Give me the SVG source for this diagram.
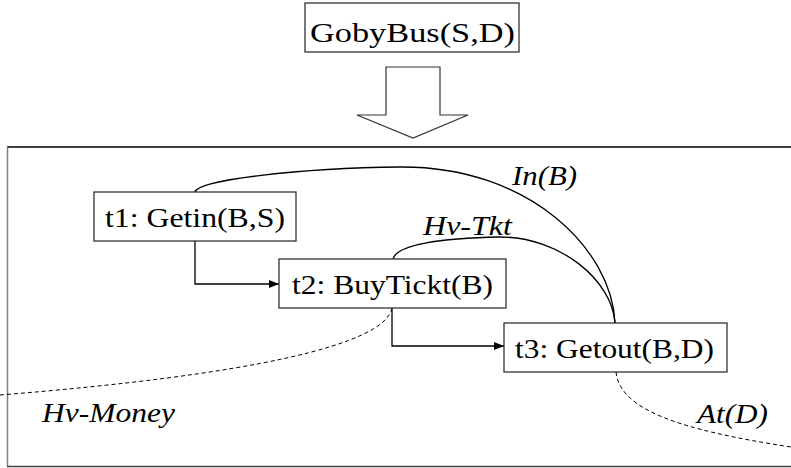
<svg xmlns="http://www.w3.org/2000/svg" width="791" height="468" viewBox="0 0 791 468">
<style>
.box{fill:#fff;stroke:#333;stroke-width:1.3}
.solid{fill:none;stroke:#000;stroke-width:1.3}
.dash{fill:none;stroke:#000;stroke-width:1;stroke-dasharray:4 3}
</style>
<defs>
<marker id="ah" viewBox="0 0 10 10" refX="10" refY="5" markerWidth="10" markerHeight="10" markerUnits="userSpaceOnUse" orient="auto">
<path d="M0,1 L10,5 L0,9 Z" fill="#000"/>
</marker>
</defs>
<rect width="791" height="468" fill="#fff"/>
<g id="frame">
<line x1="7" y1="147" x2="791" y2="147" stroke="#000" stroke-width="1.3"/>
<line x1="7.5" y1="147" x2="7.5" y2="467" stroke="#808080" stroke-width="1.5"/>
<line x1="7" y1="466.5" x2="791" y2="466.5" stroke="#444" stroke-width="1.3"/>
</g>
<g id="bigarrow">
<polygon points="386,67 440,67 440,115 468,115 413,138 357,115 386,115" fill="#fff" stroke="#333" stroke-width="1.2"/>
</g>
<g id="connectors">
<path class="solid" d="M195,192 C198,180 300,168 400,167 C530,166 612,250 615,323"/>
<path class="solid" d="M393,259 C396,245 440,238 500,237 C560,237 612,280 615,323"/>
<path class="dash" d="M392,308 C385,345 250,375 0,395"/>
<path class="dash" d="M616,372 C620,410 680,430 791,447"/>
<polyline class="solid" points="195,241 195,284 279,284" marker-end="url(#ah)"/>
<polyline class="solid" points="392,308 392,346 504,346" marker-end="url(#ah)"/>
</g>
<g font-family="Liberation Serif, Tinos, Times New Roman, DejaVu Serif, serif" font-size="28" fill="#000">
<g id="goal">
<rect class="box" x="305" y="3" width="214" height="49"/>
<text x="310" y="42" textLength="205" lengthAdjust="spacingAndGlyphs">GobyBus(S,D)</text>
</g>
<g id="t1">
<rect class="box" x="94" y="192" width="202" height="49"/>
<text x="105" y="227" textLength="180" lengthAdjust="spacingAndGlyphs">t1: Getin(B,S)</text>
</g>
<g id="t2">
<rect class="box" x="279" y="259" width="227" height="49"/>
<text x="292" y="294" textLength="201" lengthAdjust="spacingAndGlyphs">t2: BuyTickt(B)</text>
</g>
<g id="t3">
<rect class="box" x="504" y="323" width="223" height="49"/>
<text x="515" y="358" textLength="199" lengthAdjust="spacingAndGlyphs">t3: Getout(B,D)</text>
</g>
<g id="labels" font-style="italic" font-size="27">
<text x="512" y="185" textLength="65" lengthAdjust="spacingAndGlyphs">In(B)</text>
<text x="423" y="235" textLength="89" lengthAdjust="spacingAndGlyphs">Hv-Tkt</text>
<text x="42" y="422" textLength="133" lengthAdjust="spacingAndGlyphs">Hv-Money</text>
<text x="697" y="423" textLength="71" lengthAdjust="spacingAndGlyphs">At(D)</text>
</g>
</g>
</svg>
